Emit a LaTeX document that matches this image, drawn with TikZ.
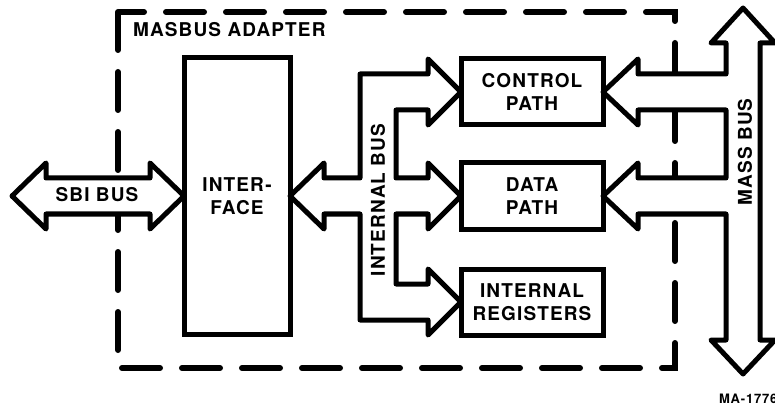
\documentclass[tikz,border=0pt]{standalone}
\usepackage{fontspec}
\setmainfont{TeX Gyre Heros}[LetterSpace=6]
\usetikzlibrary{positioning}

\newcommand{\lbl}{\fontsize{9.5}{11.5}\selectfont\bfseries}
\tikzset{
  blk/.style={draw, line width=2.5pt, outer sep=0pt, align=center, font=\lbl,
    minimum width=71pt, minimum height=33pt},
  bus/.style={draw, fill=white, line width=2.5pt, line join=round},
  dashbox/.style={line width=3pt, dash pattern=on 19pt off 11pt, line cap=round},
}

\begin{document}
\begin{tikzpicture}[x=0.5pt, y=-0.5pt]
    \useasboundingbox (0,0) rectangle (775,406);

    % adapter outline
    \draw[dashbox] (118,12) rectangle (675,368);
    \node[font=\lbl, anchor=west] (title) at (126,30) {MASBUS ADAPTER};

    % units
    \node[blk, minimum width=53pt, minimum height=138pt] (iface) at (237,196) {INTER-\\FACE};
    \node[blk] (ctrl) at (532,92) {CONTROL\\PATH};
    \node[blk, below=19pt of ctrl] (data) {DATA\\PATH};
    \node[blk, below=20pt of data] (regs) {INTERNAL\\REGISTERS};

    \coordinate (sbi) at (12,196);
    \coordinate (mtop) at (743,8);
    \coordinate (mbot) at (743,374);

    % sbi bus
    \draw[bus] (sbi) -- (46,163) -- (46,178) -- (150,178) -- (150,163) -- (iface.west)
        -- (150,229) -- (150,214) -- (46,214) -- (46,229) -- cycle;

    % internal bus
    \draw[bus] (iface.east) -- (324,163) -- (324,178) -- (360,178) -- (360,74)
        -- (428,74) -- (428,59) -- (ctrl.west) -- (428,125) -- (428,110)
        -- (396,110) -- (396,178) -- (428,178) -- (428,163) -- (data.west)
        -- (428,229) -- (428,214) -- (396,214) -- (396,284) -- (428,284)
        -- (428,269) -- (regs.west) -- (428,335) -- (428,320) -- (360,320)
        -- (360,214) -- (324,214) -- (324,229) -- cycle;

    % mass bus
    \draw[bus] (mtop) -- (775,43) -- (760,43) -- (760,340) -- (775,340) -- (mbot)
        -- (711,340) -- (726,340) -- (726,214) -- (638,214) -- (638,229)
        -- (data.east) -- (638,163) -- (638,178) -- (726,178) -- (726,110)
        -- (638,110) -- (638,125) -- (ctrl.east) -- (638,59) -- (638,74)
        -- (726,74) -- (726,43) -- (711,43) -- cycle;

    \node[font=\lbl] (sbilbl) at (97,195) {SBI BUS};
    \node[font=\lbl, rotate=90] (ibus) at (378,200) {INTERNAL BUS};
    \node[font=\lbl, rotate=90] (mbus) at (745,152) {MASS BUS};
    \node[font=\fontsize{6.5}{8}\selectfont\bfseries, anchor=west] (fig) at (712,399) {MA-1776};
\end{tikzpicture}
\end{document}
